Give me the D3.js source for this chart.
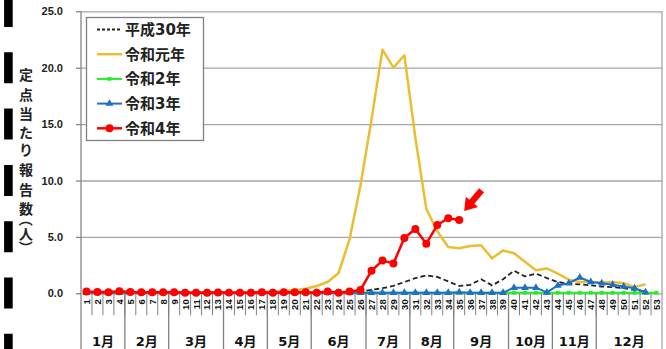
<!DOCTYPE html>
<html>
<head>
<meta charset="utf-8">
<script src="https://cdn.jsdelivr.net/npm/d3@7"></script>
<style>
  body { margin: 0; background: #fff; }
  svg { display: block; font-family: 'DejaVu Sans', 'Noto Sans CJK JP', sans-serif; font-weight: bold; }
</style>
</head>
<body>
<div id="chart"></div>
<script>
// weeks 1..53, grouped by month on the second axis level
const weeks = ['1','2','3','4','5','6','7','8','9','10','11','12','13','14','15','16','17','18','19','20',
  '21','22','23','24','25','26','27','28','29','30','31','32','33','34','35','36','37','38','39','40',
  '41','42','43','44','45','46','47','48','49','50','51','52','53'];
const months = ['1月','2月','3月','4月','5月','6月','7月','8月','9月','10月','11月','12月'];
const monthWeeks = [4, 4, 5, 4, 4, 5, 4, 4, 5, 4, 4, 6];
const yTicks = [0, 5, 10, 15, 20, 25];

const seriesNames = ['平成30年', '令和元年', '令和2年', '令和3年', '令和4年'];

const h30 = [0.1,0.1,0.1,0.05,0.05,0.05,0.05,0.05,0.05,0.05,0.05,0.05,0.05,0.05,0.05,0.05,0.05,0.05,0.05,0.05,
  0.05,0.05,0.05,0.1,0.1,0.15,0.3,0.45,0.65,1.0,1.35,1.6,1.45,1.05,0.65,0.75,1.25,0.7,1.25,2.0,
  1.5,1.75,1.35,1.0,0.85,0.8,0.7,0.6,0.55,0.45,0.3,0.15];
const r1 = [0.1,0.1,0.15,0.15,0.1,0.1,0.1,0.1,0.1,0.1,0.1,0.1,0.1,0.1,0.1,0.1,0.12,0.15,0.2,0.3,
  0.4,0.65,1.0,1.8,4.8,9.6,15.4,21.6,20.0,21.1,13.8,7.5,5.5,4.1,4.0,4.2,4.25,3.1,3.8,3.55,
  2.8,2.05,2.2,1.75,1.2,1.0,1.0,0.95,1.0,0.9,0.55,0.8];
const r2 = [0.05,0.05,0.05,0.05,0.05,0.05,0.05,0.1,0.1,0.05,0.05,0.05,0.05,0.05,0.05,0.05,0.05,0.05,0.05,0.05,
  0.05,0.05,0.05,0.05,0.05,0.05,0.05,0.05,0.05,0.05,0.05,0.05,0.05,0.05,0.05,0.05,0.05,0.05,0.05,0.05,
  0.05,0.05,0.05,0.05,0.05,0.05,0.05,0.05,0.05,0.05,0.05,0.05,0.05];
const r3 = [0.05,0.05,0.05,0.05,0.05,0.05,0.05,0.05,0.05,0.05,0.05,0.05,0.05,0.05,0.05,0.05,0.05,0.05,0.05,0.05,
  0.05,0.05,0.05,0.05,0.05,0.05,0.05,0.05,0.05,0.05,0.05,0.05,0.05,0.05,0.1,0.05,0.05,0.05,0.05,0.5,
  0.5,0.5,0.08,0.7,0.9,1.4,1.0,0.9,0.75,0.6,0.45,0.1];
const r4 = [0.15,0.12,0.1,0.18,0.12,0.1,0.1,0.1,0.1,0.05,0.05,0.05,0.08,0.06,0.05,0.05,0.1,0.05,0.1,0.1,
  0.1,0.05,0.15,0.05,0.15,0.3,2.0,2.9,2.65,4.9,5.7,4.4,6.05,6.65,6.5];

let width = 666;
let height = 349;
let plotLeft = 81, plotRight = 662, plotTop = 11.3, plotBottom = 293.3;

let svg = d3.select('#chart').append('svg')
  .attr('width', width)
  .attr('height', height);

let x = d3.scaleBand().domain(weeks).range([plotLeft, plotRight]);
let y = d3.scaleLinear().domain([0, 25]).range([plotBottom, plotTop]);

// black bars along the left edge
svg.append('line')
  .attr('x1', 8.4).attr('x2', 8.4).attr('y1', -4).attr('y2', height)
  .attr('stroke', '#000').attr('stroke-width', 8.6)
  .attr('stroke-dasharray', '31 25.3');

// gridlines
svg.append('g')
  .attr('transform', `translate(${plotLeft},0)`)
  .call(d3.axisLeft(y).tickValues(yTicks.slice(1)).tickSize(-(plotRight - plotLeft)).tickFormat(''))
  .call(g => g.select('.domain').remove())
  .call(g => g.selectAll('line').attr('stroke', '#a6a6a6').attr('stroke-width', 1.3));

// right border
svg.append('line')
  .attr('x1', plotRight).attr('x2', plotRight).attr('y1', plotTop).attr('y2', height)
  .attr('stroke', '#a6a6a6').attr('stroke-width', 1.3);

// y axis
let yAxis = svg.append('g')
  .attr('transform', `translate(${plotLeft},0)`)
  .call(d3.axisLeft(y).tickValues(yTicks).tickSize(5).tickPadding(13).tickFormat(d3.format('.1f')));
yAxis.select('.domain').remove();
yAxis.selectAll('line').attr('stroke', '#868686').attr('stroke-width', 1.3);
yAxis.selectAll('text').attr('font-size', 11).attr('fill', '#222');
svg.append('line')
  .attr('x1', plotLeft).attr('x2', plotLeft).attr('y1', plotTop).attr('y2', height)
  .attr('stroke', '#868686').attr('stroke-width', 1.3);

// x axis, week level
let xAxis = svg.append('g')
  .attr('transform', `translate(0,${plotBottom})`)
  .call(d3.axisBottom(x).tickSize(0));
xAxis.select('.domain').attr('stroke', '#a6a6a6').attr('stroke-width', 1.3);
xAxis.selectAll('text')
  .attr('transform', 'rotate(-90)')
  .attr('x', -6).attr('y', 0).attr('dy', '0.36em')
  .attr('font-size', 9.5).attr('fill', '#111')
  .style('text-anchor', 'end');

svg.append('g').selectAll('line').data(weeks.slice(1)).enter().append('line')
  .attr('x1', d => x(d)).attr('x2', d => x(d))
  .attr('y1', plotBottom).attr('y2', plotBottom + 22)
  .attr('stroke', '#808080').attr('stroke-width', 1);

// month level
let cum = 0;
let monthSpans = months.map((m, i) => {
  let s = { name: m, start: cum, end: cum + monthWeeks[i] };
  cum += monthWeeks[i];
  return s;
});
let xStart = i => plotLeft + i * x.step();

svg.append('g').selectAll('line').data(monthSpans.slice(1)).enter().append('line')
  .attr('x1', d => xStart(d.start)).attr('x2', d => xStart(d.start))
  .attr('y1', plotBottom).attr('y2', height)
  .attr('stroke', '#808080').attr('stroke-width', 1.3);

svg.append('g').selectAll('text').data(monthSpans).enter().append('text')
  .attr('x', d => (xStart(d.start) + xStart(d.end)) / 2)
  .attr('y', 346)
  .attr('text-anchor', 'middle')
  .attr('font-size', 13)
  .attr('fill', '#111')
  .text(d => d.name);

// y axis title, stacked characters (brackets turned for vertical text)
let titleChars = ['定','点','当','た','り','報','告','数','（','人','）'];
let titleY = [75, 94.5, 114, 133, 150, 170, 190, 209, 219.5, 234, 247.5];
svg.append('g').selectAll('text').data(titleChars).enter().append('text')
  .attr('text-anchor', 'middle')
  .attr('dominant-baseline', 'central')
  .attr('font-size', 14)
  .attr('fill', '#222')
  .attr('transform', (d, i) => (d === '（' || d === '）')
    ? `translate(26,${titleY[i]}) rotate(90)`
    : `translate(26,${titleY[i]})`)
  .text(d => d);

// series
let series = [
  { name: seriesNames[0], values: h30, color: '#222', width: 1.8, dash: '5 3', marker: null },
  { name: seriesNames[1], values: r1, color: '#ebbd2f', width: 2.5, dash: null, marker: null },
  { name: seriesNames[2], values: r2, color: '#22ee22', width: 2, dash: null, marker: 'square' },
  { name: seriesNames[3], values: r3, color: '#1f6fc5', width: 2, dash: null, marker: 'triangle' },
  { name: seriesNames[4], values: r4, color: '#ff0000', width: 2.5, dash: null, marker: 'circle' }
];

let line = d3.line()
  .x((d, i) => x(weeks[i]) + x.bandwidth() / 2)
  .y(d => y(d));

let symbolOf = m => m === 'square' ? d3.symbolSquare : m === 'triangle' ? d3.symbolTriangle : d3.symbolCircle;
let sizeOf = m => m === 'square' ? 14 : m === 'triangle' ? 26 : 50;

series.forEach(s => {
  svg.append('path')
    .datum(s.values)
    .attr('fill', 'none')
    .attr('stroke', s.color)
    .attr('stroke-width', s.width)
    .attr('stroke-linejoin', 'round')
    .attr('stroke-dasharray', s.dash)
    .attr('d', line);
  if (s.marker) {
    svg.append('g').selectAll('path').data(s.values).enter().append('path')
      .attr('transform', (d, i) => `translate(${x(weeks[i]) + x.bandwidth() / 2},${y(d)})`)
      .attr('d', d3.symbol().type(symbolOf(s.marker)).size(sizeOf(s.marker)))
      .attr('fill', s.color);
  }
});

// red arrow pointing at the latest week
let lastX = x(weeks[r4.length - 1]) + x.bandwidth() / 2;
let lastY = y(r4[r4.length - 1]);
svg.append('path')
  .attr('d', 'M0,0 L-12,-8 L-12,-3.2 L-27,-3.2 L-27,3.2 L-12,3.2 L-12,8 Z')
  .attr('fill', '#ff0000')
  .attr('transform', `translate(${lastX + 5},${lastY - 9}) rotate(130)`);

// legend
let legend = svg.append('g').attr('transform', 'translate(86,17)');
legend.append('rect')
  .attr('x', 0.5).attr('y', 0.5).attr('width', 117).attr('height', 123)
  .attr('fill', '#fff').attr('stroke', '#808080').attr('stroke-width', 1.3);

let rows = legend.selectAll('g.row').data(series).enter().append('g')
  .attr('class', 'row')
  .attr('transform', (d, i) => `translate(0,${12.5 + i * 24.7})`);
rows.append('line')
  .attr('x1', 11).attr('x2', 36).attr('y1', 0).attr('y2', 0)
  .attr('stroke', d => d.color)
  .attr('stroke-width', d => d.width)
  .attr('stroke-dasharray', d => d.dash ? '3 2' : null);
rows.filter(d => d.marker).append('path')
  .attr('transform', 'translate(23.5,0)')
  .attr('d', d => d3.symbol().type(symbolOf(d.marker)).size(sizeOf(d.marker))())
  .attr('fill', d => d.color);
rows.append('text')
  .attr('x', 39).attr('y', 0).attr('dy', '0.36em')
  .attr('font-size', 15)
  .attr('fill', '#222')
  .text(d => d.name);
</script>
</body>
</html>
